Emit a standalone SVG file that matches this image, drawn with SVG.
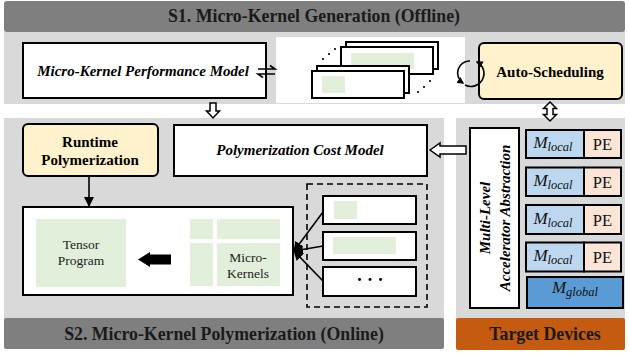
<svg xmlns="http://www.w3.org/2000/svg" width="629" height="354" viewBox="0 0 629 354">
<defs>
<style>
.banner{fill:#7f7f7f}
.band{fill:#d9d9d9}
.box{fill:#fff;stroke:#000;stroke-width:2}
.yel{fill:#fff2cc;stroke:#000;stroke-width:2}
.grn{fill:#e2efda}
.ml{fill:#bdd7ee;stroke:#000;stroke-width:2}
.pe{fill:#fbe5d6;stroke:#000;stroke-width:2}
.mg{fill:#5b9bd5;stroke:#000;stroke-width:2}
.bt{font-family:"Liberation Serif","Times New Roman",serif;font-weight:bold;font-size:17.8px;fill:#1a1a1a;text-anchor:middle}
.bi{font-family:"Liberation Serif","Times New Roman",serif;font-weight:bold;font-style:italic;font-size:15px;text-anchor:middle}
.b{font-family:"Liberation Serif","Times New Roman",serif;font-weight:bold;font-size:15px;text-anchor:middle}
.r{font-family:"Liberation Serif","Times New Roman",serif;font-size:13.5px;text-anchor:middle;fill:#222}
.pt{font-family:"Liberation Serif","Times New Roman",serif;font-size:16.5px;text-anchor:middle;fill:#111}
.m{font-family:"Liberation Serif","Times New Roman",serif;font-style:italic;font-size:17px;text-anchor:middle;fill:#111}
.ln{fill:none;stroke:#000;stroke-width:1.6}
.hollow{fill:#fff;stroke:#000;stroke-width:1.5}
</style>
<marker id="ah" viewBox="0 0 10 10" refX="9" refY="5" markerWidth="10" markerHeight="10" markerUnits="userSpaceOnUse" orient="auto">
<path d="M0,0 L10,5 L0,10 Z" fill="#000"/>
</marker>
<marker id="ahs" viewBox="0 0 10 10" refX="8" refY="5" markerWidth="7" markerHeight="7" markerUnits="userSpaceOnUse" orient="auto">
<path d="M0,0 L10,5 L0,10 Z" fill="#000"/>
</marker>
</defs>

<g id="s1-section">
<rect class="band" x="4" y="30" width="621" height="74"/>
<rect class="banner" x="4" y="1" width="621" height="31" rx="3"/>
<text class="bt" x="314" y="22">S1. Micro-Kernel Generation (Offline)</text>
<rect x="276" y="37" width="189" height="66" fill="#fff"/>
</g>

<g id="s2-section">
<rect class="band" x="4" y="118" width="440" height="202"/>
<rect class="banner" x="4" y="318" width="440" height="31" rx="2"/>
<text class="bt" x="224" y="340">S2. Micro-Kernel Polymerization (Online)</text>
</g>

<g id="target-section">
<rect class="band" x="456" y="118" width="169" height="202"/>
<rect x="456" y="318" width="169" height="32" rx="2" fill="#c55a11"/>
<text class="bt" x="545" y="340">Target Devices</text>
</g>

<g id="perf-model">
<rect class="box" x="23" y="43" width="243" height="55"/>
<text class="bi" x="143" y="76">Micro-Kernel Performance Model</text>
</g>

<g id="kernel-stack">
<rect class="box" x="346" y="42" width="92" height="27"/>
<rect class="box" x="341" y="47" width="92" height="27"/>
<rect class="grn" x="351" y="53" width="63" height="16"/>
<rect class="box" x="317" y="66" width="92" height="27"/>
<rect class="box" x="312" y="71" width="92" height="27"/>
<rect class="grn" x="322" y="76" width="23" height="17"/>
<circle cx="323" cy="59" r="1.1"/>
<circle cx="329" cy="54" r="1.1"/>
<circle cx="335" cy="49" r="1.1"/>
<circle cx="418" cy="92" r="1.1"/>
<circle cx="424" cy="87" r="1.1"/>
<circle cx="430" cy="81" r="1.1"/>
</g>

<g id="auto-scheduling">
<rect class="yel" x="479" y="43" width="143" height="56" rx="5"/>
<text class="b" x="550" y="77">Auto-Scheduling</text>
</g>

<g id="runtime-polymerization">
<rect class="yel" x="23" y="124" width="135" height="52" rx="5"/>
<text class="b" x="90" y="147">Runtime</text>
<text class="b" x="90" y="165">Polymerization</text>
</g>

<g id="cost-model">
<rect class="box" x="174" y="125" width="253" height="51"/>
<text class="bi" x="300" y="155">Polymerization Cost Model</text>
</g>

<g id="tensor-program">
<rect class="box" x="23" y="207" width="270" height="88"/>
<rect class="grn" x="36" y="219" width="90" height="68"/>
<text class="r" x="81" y="249">Tensor</text>
<text class="r" x="81" y="265">Program</text>
<path d="M138,259.5 L150,252 L150,254.5 L171,254.5 L171,264.5 L150,264.5 L150,267 Z" fill="#000"/>
<rect class="grn" x="190" y="219" width="23" height="20"/>
<rect class="grn" x="217" y="219" width="63" height="20"/>
<rect class="grn" x="190" y="243" width="23" height="43"/>
<rect class="grn" x="217" y="243" width="63" height="43"/>
<text class="r" x="248" y="262">Micro-</text>
<text class="r" x="248" y="278">Kernels</text>
</g>

<g id="kernel-candidates">
<rect x="307" y="184" width="120" height="123" fill="none" stroke="#000" stroke-width="1.6" stroke-dasharray="6,4"/>
<rect class="box" x="323" y="196" width="93" height="28"/>
<rect class="grn" x="334" y="201" width="23" height="18"/>
<rect class="box" x="323" y="232" width="93" height="28"/>
<rect class="grn" x="333" y="237" width="63" height="17"/>
<rect class="box" x="323" y="267" width="93" height="29"/>
<text x="370" y="286" font-family="Liberation Serif, serif" font-size="18" font-weight="bold" text-anchor="middle">· · ·</text>
</g>

<g id="accelerator-abstraction">
<rect class="box" x="470" y="128" width="49" height="180"/>
<text class="bi" transform="translate(490,218) rotate(-90)">Multi-Level</text>
<text class="bi" transform="translate(510,218) rotate(-90)">Accelerator Abstraction</text>
</g>

<g id="pe-row-1">
<rect class="ml" x="526" y="130" width="58" height="28"/>
<rect class="pe" x="584" y="130" width="37" height="28"/>
<text class="m" x="553" y="148">M<tspan font-size="12.5" dy="3">local</tspan></text>
<text class="pt" x="602.5" y="150">PE</text>
</g>
<g id="pe-row-2">
<rect class="ml" x="526" y="167.5" width="58" height="28.5"/>
<rect class="pe" x="584" y="167.5" width="37" height="28.5"/>
<text class="m" x="553" y="186">M<tspan font-size="12.5" dy="3">local</tspan></text>
<text class="pt" x="602.5" y="188">PE</text>
</g>
<g id="pe-row-3">
<rect class="ml" x="526" y="205" width="58" height="29"/>
<rect class="pe" x="584" y="205" width="37" height="29"/>
<text class="m" x="553" y="223.5">M<tspan font-size="12.5" dy="3">local</tspan></text>
<text class="pt" x="602.5" y="225.5">PE</text>
</g>
<g id="pe-row-4">
<rect class="ml" x="526" y="242.5" width="58" height="29"/>
<rect class="pe" x="584" y="242.5" width="37" height="29"/>
<text class="m" x="553" y="261">M<tspan font-size="12.5" dy="3">local</tspan></text>
<text class="pt" x="602.5" y="263">PE</text>
</g>
<g id="m-global">
<rect class="mg" x="527" y="277" width="96" height="31"/>
<text class="m" x="575" y="293">M<tspan font-size="12.5" dy="3">global</tspan></text>
</g>

<g id="connectors">
<path class="ln" d="M258,69 L275,69 L270,65.5" stroke-width="1.4"/>
<path class="ln" d="M275,74 L258,74 L263,77.5" stroke-width="1.4"/>
<path class="hollow" d="M210,103 L216,103 L216,111 L219.5,111 L213,118 L206.5,111 L210,111 Z"/>
<path class="hollow" d="M550,102 L556.5,108.5 L553,108.5 L553,114.5 L556.5,114.5 L550,121 L543.5,114.5 L547,114.5 L547,108.5 L543.5,108.5 Z"/>
<path class="hollow" d="M430,150 L440,143 L440,146 L466,146 L466,154 L440,154 L440,157 Z"/>
<path class="ln" d="M470,61 A12,12 0 0 0 463,83" marker-end="url(#ahs)"/>
<path class="ln" d="M465,85 A12,12 0 0 0 477,62" marker-end="url(#ahs)"/>
<line class="ln" x1="89" y1="176" x2="89" y2="206" marker-end="url(#ah)"/>
<line class="ln" x1="323" y1="212" x2="294" y2="251" marker-end="url(#ah)"/>
<line class="ln" x1="323" y1="246" x2="294" y2="251" marker-end="url(#ah)"/>
<line class="ln" x1="323" y1="281" x2="294" y2="251" marker-end="url(#ah)"/>
</g>
</svg>
